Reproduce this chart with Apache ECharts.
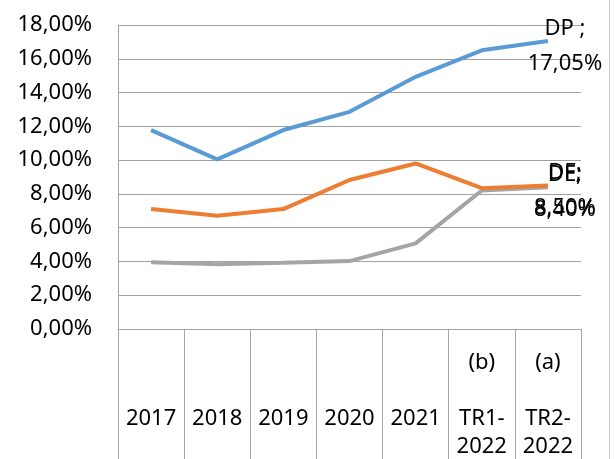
<!DOCTYPE html>
<html>
<head>
<meta charset="utf-8">
<script src="https://cdn.jsdelivr.net/npm/echarts@6/dist/echarts.min.js"></script>
<style>
  html, body { margin: 0; padding: 0; background: #fff; }
  #chart { width: 614px; height: 459px; }
</style>
</head>
<body>
<div id="chart"></div>
<script>
// categories (bottom table)
const categories = ['2017', '2018', '2019', '2020', '2021', 'TR1-\n2022', 'TR2-\n2022']
const categoryNotes = ['', '', '', '', '', '(b)', '(a)']

// series values, in %
const dpValues = [11.78, 10.04, 11.78, 12.86, 14.93, 16.5, 17.05]
const dfValues = [7.1, 6.7, 7.1, 8.82, 9.8, 8.34, 8.5]
const deValues = [3.95, 3.83, 3.92, 4.02, 5.07, 8.2, 8.4]

const seriesNames = ['DP ;', 'DF;', 'DE;']
const seriesColors = ['#5b9bd5', '#ed7d31', '#a5a5a5']

const FONT = 'Noto Sans'
const fmtPct = v => v.toFixed(2).replace('.', ',') + '%'

const chart = echarts.init(document.getElementById('chart'))

const allValues = [dpValues, dfValues, deValues]

const option = {
  animation: false,
  // bottom labels run off the canvas like in the source, so don't shrink the grid
  grid: { left: 118, right: 33, top: 25, bottom: 130, outerBoundsMode: 'none', containLabel: false },
  xAxis: {
    type: 'category',
    data: categories,
    boundaryGap: true,
    axisLine: { show: true, lineStyle: { color: '#a6a6a6', width: 1 } },
    axisTick: { show: true, length: 135, lineStyle: { color: '#a6a6a6', width: 1 } },
    axisLabel: {
      interval: 0,
      margin: 20,
      verticalAlign: 'top',
      lineHeight: 28,
      fontFamily: FONT,
      fontSize: 22,
      color: '#000',
      formatter: (val, idx) => {
        const note = categoryNotes[idx]
        return (note ? note : '') + '\n\n' + val
      }
    },
    splitLine: { show: false }
  },
  yAxis: {
    type: 'value',
    min: 0,
    max: 18,
    interval: 2,
    axisLine: { show: true, lineStyle: { color: '#a6a6a6', width: 1 } },
    axisTick: { show: false },
    axisLabel: {
      margin: 26,
      fontFamily: FONT,
      fontSize: 22,
      color: '#000',
      formatter: v => fmtPct(v)
    },
    splitLine: { lineStyle: { color: '#a0a0a0', width: 1 } }
  },
  series: allValues.map((vals, i) => ({
    name: seriesNames[i],
    type: 'line',
    data: vals,
    symbol: 'none',
    smooth: false,
    lineStyle: { color: seriesColors[i], width: 4 },
    itemStyle: { color: seriesColors[i] },
    z: 3 - i,
    // data label on the last point only
    endLabel: {
      show: true,
      distance: 0,
      offset: [17, 5],
      align: 'center',
      verticalAlign: 'middle',
      lineHeight: 35,
      fontFamily: FONT,
      fontSize: 22,
      color: '#000',
      formatter: p => seriesNames[i] + '\n' + fmtPct(p.value)
    }
  })),
  graphic: [{
    type: 'line',
    shape: { x1: 609.5, y1: 0, x2: 609.5, y2: 459 },
    style: { stroke: '#c8c8c8', lineWidth: 1 }
  }]
}

chart.setOption(option)
</script>
</body>
</html>
